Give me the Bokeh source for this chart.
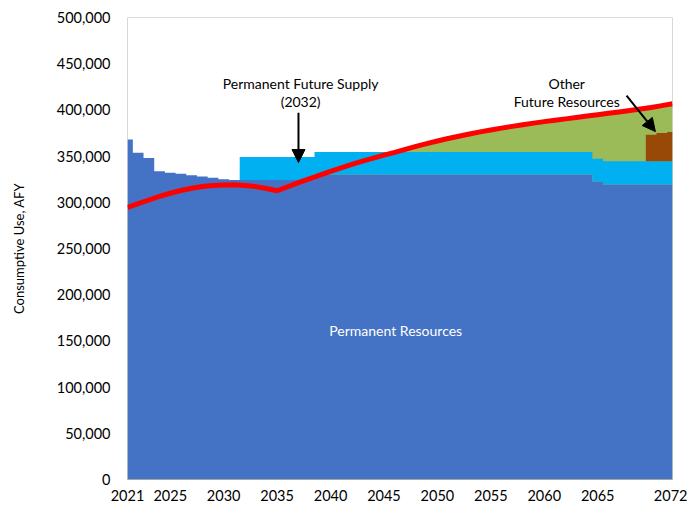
from bokeh.plotting import figure
from bokeh.models import (ColumnDataSource, Range1d, Label, Arrow, NormalHead,
                          BoxAnnotation, FixedTicker, NumeralTickFormatter)
from bokeh.embed import file_html
from bokeh.resources import INLINE

# ---------------- data (acre-feet per year) ----------------
years = [2021, 2022, 2023, 2024, 2025, 2026, 2027, 2028, 2029, 2030,
         2031, 2032, 2033, 2034, 2035, 2036, 2037, 2038, 2039, 2040,
         2041, 2042, 2043, 2044, 2045, 2046, 2047, 2048, 2049, 2050,
         2051, 2052, 2053, 2054, 2055, 2056, 2057, 2058, 2059, 2060,
         2061, 2062, 2063, 2064, 2065, 2066, 2067, 2068, 2069, 2070,
         2071, 2072]

permanent_resources = [368000, 353500, 348000, 333700, 332000, 330800, 329400, 328000, 326500, 325000,
                       324000, 324000, 324000, 324000, 324000, 324000, 324000, 324000, 330000, 330000,
                       330000, 330000, 330000, 330000, 330000, 330000, 330000, 330000, 330000, 330000,
                       330000, 330000, 330000, 330000, 330000, 330000, 330000, 330000, 330000, 330000,
                       330000, 330000, 330000, 330000, 322500, 319300, 319300, 319300, 319300, 319300,
                       319300, 319300]

permanent_future_supply = [0, 0, 0, 0, 0, 0, 0, 0, 0, 0,
                           0, 25000, 25000, 25000, 25000, 25000, 25000, 25000, 24500, 24500,
                           24500, 24500, 24500, 24500, 24500, 24500, 24500, 24500, 24500, 24500,
                           24500, 24500, 24500, 24500, 24500, 24500, 24500, 24500, 24500, 24500,
                           24500, 24500, 24500, 24500, 24500, 25200, 25200, 25200, 25200, 25200,
                           25200, 25200]

other_future_resources = [0, 0, 0, 0, 0, 0, 0, 0, 0, 0,
                          0, 0, 0, 0, 0, 0, 0, 0, 0, 0,
                          0, 0, 0, 0, 0, 0, 0, 0, 0, 0,
                          0, 0, 0, 0, 0, 0, 0, 0, 0, 0,
                          0, 0, 0, 0, 0, 0, 0, 0, 0, 28500,
                          30500, 31500]

consumptive_use = [294500, 298500, 302500, 306300, 309800, 312800, 315200, 317000, 318200, 318800,
                   318900, 318300, 317000, 315000, 312500, 316800, 321200, 325400, 329500, 333500,
                   337300, 341000, 344500, 347800, 351000, 354000, 357300, 360500, 363500, 366300,
                   369000, 371500, 373900, 376200, 378300, 380300, 382200, 384000, 385700, 387300,
                   388800, 390300, 391800, 393300, 394800, 396300, 397800, 399400, 401000, 402700,
                   404600, 406600]

x_tick_years = [2021, 2025, 2030, 2035, 2040, 2045, 2050, 2055, 2060, 2065, 2072]
y_ticks = [0, 50000, 100000, 150000, 200000, 250000, 300000, 350000, 400000, 450000, 500000]

# annotation anchor points (data units)
pfs_text_x, pfs_text_y1, pfs_text_y2 = 2037.2, 429000, 409500
pfs_arrow = (2037.0, 397000, 2037.0, 343000)
ofr_text_x, ofr_text_y1, ofr_text_y2 = 2062.1, 429000, 409500
ofr_arrow = (2067.7, 415500, 2070.4, 376500)
pr_text = (2046.1, 161000)

# stacked tops
top_perm = permanent_resources
top_future = [a + b for a, b in zip(permanent_resources, permanent_future_supply)]
top_other = [a + b for a, b in zip(top_future, other_future_resources)]

src = ColumnDataSource(dict(x=years, zero=[0] * len(years), perm=top_perm,
                            fut=top_future, oth=top_other, demand=consumptive_use))

FONT = "Lato"

p = figure(width=687, height=510, output_backend="svg", toolbar_location=None,
           x_range=Range1d(years[0], years[-1]), y_range=Range1d(y_ticks[0], y_ticks[-1]),
           min_border_left=127, min_border_right=15, min_border_top=17, min_border_bottom=31)
p.outline_line_color = None
p.background_fill_color = "white"
p.border_fill_color = "white"
p.xgrid.visible = False
p.ygrid.visible = False

p.add_layout(BoxAnnotation(left=years[0], right=years[-1], bottom=y_ticks[0], top=y_ticks[-1],
                           fill_alpha=0, line_color="black", line_width=1, level="underlay"))

# green: demand area behind supplies
p.varea(x="x", y1="zero", y2="demand", source=src, fill_color="#9BBB59")
# dark blue permanent resources
p.varea_step(x="x", y1="zero", y2="perm", step_mode="center", source=src, fill_color="#4472C4")
# light blue permanent future supply
p.varea_step(x="x", y1="perm", y2="fut", step_mode="center", source=src, fill_color="#00B0F0")
# brown other future resources
p.varea_step(x="x", y1="fut", y2="oth", step_mode="center", source=src, fill_color="#984807")
# red consumptive use line
p.line(x="x", y="demand", source=src, line_color="#FF0000", line_width=5, line_join="round")

# axes
p.xaxis.ticker = FixedTicker(ticks=x_tick_years)
p.xaxis.axis_line_color = "#a6a6a6"
p.xaxis.major_tick_line_color = None
p.xaxis.minor_tick_line_color = None
p.xaxis.major_tick_out = 0
p.xaxis.major_tick_in = 0
p.xaxis.minor_tick_out = 0
p.xaxis.major_label_standoff = 10
p.xaxis.major_label_text_font = FONT
p.xaxis.major_label_text_font_size = "14.5px"
p.xaxis.major_label_text_color = "black"

p.yaxis.ticker = FixedTicker(ticks=y_ticks)
p.yaxis.formatter = NumeralTickFormatter(format="0,0")
p.yaxis.axis_line_color = None
p.yaxis.major_tick_line_color = None
p.yaxis.minor_tick_line_color = None
p.yaxis.major_tick_out = 0
p.yaxis.major_tick_in = 0
p.yaxis.minor_tick_out = 0
p.yaxis.major_label_standoff = 17
p.yaxis.major_label_text_font = FONT
p.yaxis.major_label_text_font_size = "14.5px"
p.yaxis.major_label_text_color = "black"
p.yaxis.axis_label = "Consumptive Use, AFY"
p.yaxis.axis_label_text_font = FONT
p.yaxis.axis_label_text_font_style = "normal"
p.yaxis.axis_label_text_font_size = "13px"
p.yaxis.axis_label_text_color = "black"
p.yaxis.axis_label_standoff = 27

def add_label(x, y, text, color="black", size="14px"):
    p.add_layout(Label(x=x, y=y, text=text, text_font=FONT, text_font_size=size,
                       text_color=color, text_align="center", text_baseline="middle"))

add_label(pfs_text_x, pfs_text_y1, "Permanent Future Supply")
add_label(pfs_text_x, pfs_text_y2, "(2032)")
add_label(ofr_text_x, ofr_text_y1, "Other")
add_label(ofr_text_x, ofr_text_y2, "Future Resources")
add_label(pr_text[0], pr_text[1], "Permanent Resources", color="white")

for (xs, ys, xe, ye) in (pfs_arrow, ofr_arrow):
    p.add_layout(Arrow(end=NormalHead(size=13, fill_color="black", line_color="black"),
                       x_start=xs, y_start=ys, x_end=xe, y_end=ye,
                       line_color="black", line_width=2))

open("out.html", "w").write(file_html(p, INLINE))
